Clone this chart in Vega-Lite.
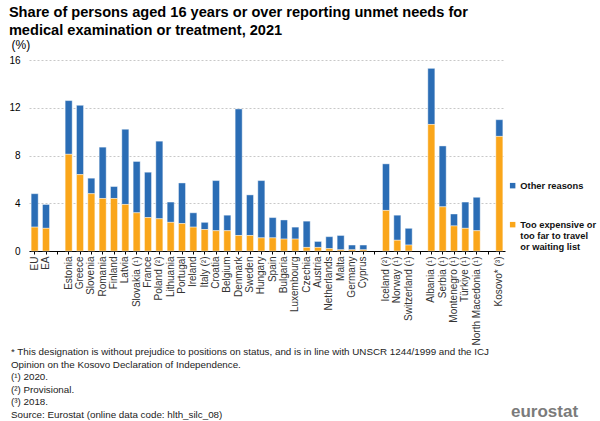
{
  "$schema": "https://vega.github.io/schema/vega-lite/v6.json",
  "padding": {"left": 8, "top": 5, "right": 5, "bottom": 0},
  "background": "white",
  "config": {"font": "Liberation Sans", "view": {"stroke": null}},
  "title": {
    "text": ["Share of persons aged 16 years or over reporting unmet needs for", "medical examination or treatment, 2021"],
    "anchor": "start",
    "frame": "bounds",
    "fontSize": 14.6,
    "fontWeight": "bold",
    "lineHeight": 18,
    "color": "#000000",
    "offset": 0
  },
  "spacing": 2,
  "vconcat": [
    {
      "width": 476,
      "height": 191,
      "data": {
        "values": [
          {"c": "EU", "Too expensive": 2.0, "Other reasons": 2.8},
          {"c": "EA", "Too expensive": 1.9, "Other reasons": 2.0},
          {"c": "Estonia", "Too expensive": 8.1, "Other reasons": 4.5},
          {"c": "Greece", "Too expensive": 6.4, "Other reasons": 5.8},
          {"c": "Slovenia", "Too expensive": 4.8, "Other reasons": 1.3},
          {"c": "Romania", "Too expensive": 4.4, "Other reasons": 4.3},
          {"c": "Finland", "Too expensive": 4.4, "Other reasons": 1.0},
          {"c": "Latvia", "Too expensive": 3.9, "Other reasons": 6.3},
          {"c": "Slovakia (¹)", "Too expensive": 3.2, "Other reasons": 4.3},
          {"c": "France", "Too expensive": 2.8, "Other reasons": 3.8},
          {"c": "Poland (²)", "Too expensive": 2.7, "Other reasons": 6.5},
          {"c": "Lithuania", "Too expensive": 2.4, "Other reasons": 1.7},
          {"c": "Portugal", "Too expensive": 2.3, "Other reasons": 3.4},
          {"c": "Ireland", "Too expensive": 2.0, "Other reasons": 1.2},
          {"c": "Italy (²)", "Too expensive": 1.8, "Other reasons": 0.6},
          {"c": "Croatia", "Too expensive": 1.7, "Other reasons": 4.2},
          {"c": "Belgium", "Too expensive": 1.7, "Other reasons": 1.3},
          {"c": "Denmark", "Too expensive": 1.3, "Other reasons": 10.6},
          {"c": "Sweden", "Too expensive": 1.3, "Other reasons": 3.4},
          {"c": "Hungary", "Too expensive": 1.1, "Other reasons": 4.8},
          {"c": "Spain", "Too expensive": 1.1, "Other reasons": 1.7},
          {"c": "Bulgaria", "Too expensive": 1.0, "Other reasons": 1.6},
          {"c": "Luxembourg", "Too expensive": 1.0, "Other reasons": 1.0},
          {"c": "Czechia", "Too expensive": 0.3, "Other reasons": 2.2},
          {"c": "Austria", "Too expensive": 0.3, "Other reasons": 0.5},
          {"c": "Netherlands", "Too expensive": 0.2, "Other reasons": 1.0},
          {"c": "Malta", "Too expensive": 0.1, "Other reasons": 1.2},
          {"c": "Germany", "Too expensive": 0.1, "Other reasons": 0.4},
          {"c": "Cyprus", "Too expensive": 0.1, "Other reasons": 0.4},
          {"c": "Iceland (²)", "Too expensive": 3.4, "Other reasons": 3.9},
          {"c": "Norway (¹)", "Too expensive": 0.9, "Other reasons": 2.1},
          {"c": "Switzerland (¹)", "Too expensive": 0.5, "Other reasons": 1.4},
          {"c": "Albania (¹)", "Too expensive": 10.6, "Other reasons": 4.7},
          {"c": "Serbia (¹)", "Too expensive": 3.7, "Other reasons": 5.1},
          {"c": "Montenegro (¹)", "Too expensive": 2.1, "Other reasons": 1.0},
          {"c": "Türkiye (¹)", "Too expensive": 1.9, "Other reasons": 2.2},
          {"c": "North Macedonia (¹)", "Too expensive": 1.7, "Other reasons": 2.8},
          {"c": "Kosovo* (³)", "Too expensive": 9.6, "Other reasons": 1.4}
        ]
      },
      "transform": [{"fold": ["Other reasons", "Too expensive"], "as": ["reason", "pct"]}],
      "mark": {"type": "bar", "stroke": "white", "strokeWidth": 0.7, "strokeOpacity": 0.6},
      "encoding": {
        "x": {
          "field": "c",
          "type": "nominal",
          "scale": {
            "domain": ["EU", "EA", "_1", "Estonia", "Greece", "Slovenia", "Romania", "Finland", "Latvia", "Slovakia (¹)", "France", "Poland (²)", "Lithuania", "Portugal", "Ireland", "Italy (²)", "Croatia", "Belgium", "Denmark", "Sweden", "Hungary", "Spain", "Bulgaria", "Luxembourg", "Czechia", "Austria", "Netherlands", "Malta", "Germany", "Cyprus", "_2", "Iceland (²)", "Norway (¹)", "Switzerland (¹)", "_3", "Albania (¹)", "Serbia (¹)", "Montenegro (¹)", "Türkiye (¹)", "North Macedonia (¹)", "_4", "Kosovo* (³)"],
            "paddingInner": 0.38,
            "paddingOuter": 0.19
          },
          "axis": {
            "title": null,
            "labelAngle": -90,
            "labelFontSize": 10,
            "labelPadding": 2,
            "labelColor": "#333333",
            "labelExpr": "indexof(datum.value, '_') == 0 ? '' : datum.value",
            "tickSize": 3,
            "tickColor": "#000000",
            "domainColor": "#000000",
            "grid": false
          }
        },
        "y": {
          "field": "pct",
          "type": "quantitative",
          "stack": "zero",
          "scale": {"domain": [0, 16], "nice": false},
          "axis": {
            "title": "(%)",
            "titleAngle": 0,
            "titleX": -18,
            "titleY": -9,
            "titleAlign": "left",
            "titleFontSize": 12,
            "titleFontWeight": "normal",
            "titleColor": "#000000",
            "values": [0, 4, 8, 12, 16],
            "grid": true,
            "gridDash": [2, 2],
            "gridColor": "#c8c8c8",
            "domain": false,
            "ticks": false,
            "labelPadding": 9,
            "labelFontSize": 10,
            "labelColor": "#000000"
          }
        },
        "color": {
          "field": "reason",
          "type": "nominal",
          "scale": {"domain": ["Other reasons", "Too expensive"], "range": ["#2b6db5", "#faa61a"]},
          "legend": {
            "orient": "none",
            "legendX": 479,
            "legendY": 121,
            "title": null,
            "symbolType": "square",
            "symbolSize": 30,
            "symbolStrokeWidth": 0,
            "labelFontSize": 9.3,
            "labelFontWeight": "bold",
            "labelLimit": 200,
            "labelColor": "#111111",
            "labelOffset": 3,
            "rowPadding": 29,
            "labelExpr": "datum.label == 'Too expensive' ? ['Too expensive or', 'too far to travel', 'or waiting list'] : datum.label"
          }
        },
        "order": {"field": "reason", "sort": "descending"}
      }
    },
    {
      "width": 476,
      "height": 63,
      "layer": [
        {
          "data": {
            "values": [
              {"n": 1, "t": "* This designation is without prejudice to positions on status, and is in line with UNSCR 1244/1999 and the ICJ"},
              {"n": 2, "t": "Opinion on the Kosovo Declaration of Independence."},
              {"n": 3, "t": "(¹) 2020."},
              {"n": 4, "t": "(²) Provisional."},
              {"n": 5, "t": "(³) 2018."},
              {"n": 6, "t": "Source: Eurostat (online data code: hlth_silc_08)"}
            ]
          },
          "mark": {"type": "text", "align": "left", "baseline": "top", "dx": -18, "fontSize": 9.8, "color": "#222222"},
          "encoding": {
            "y": {"field": "n", "type": "ordinal", "axis": null, "scale": {"padding": 0}},
            "x": {"datum": 0, "type": "quantitative", "scale": {"domain": [0, 1]}, "axis": null},
            "text": {"field": "t"}
          }
        },
        {
          "data": {"values": [{"n": 6, "logo": "eurostat"}]},
          "mark": {"type": "text", "align": "left", "baseline": "top", "dx": 6, "dy": -6, "fontSize": 17, "fontWeight": "bold", "color": "#7b7b7b"},
          "encoding": {
            "y": {"field": "n", "type": "ordinal", "axis": null},
            "x": {"datum": 1, "type": "quantitative", "axis": null},
            "text": {"field": "logo"}
          }
        }
      ]
    }
  ]
}
